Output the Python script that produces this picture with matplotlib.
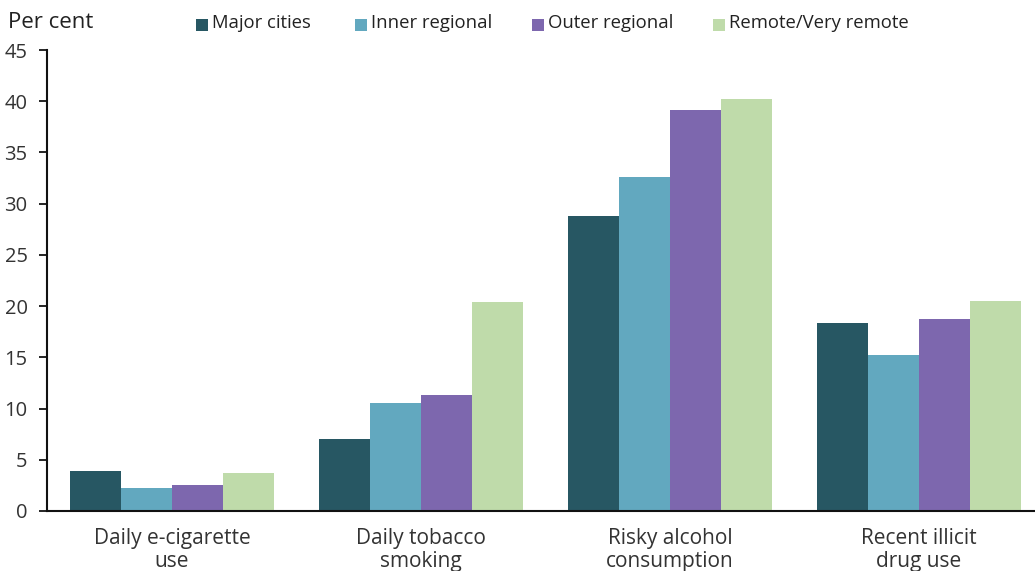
import matplotlib
matplotlib.use("Agg")
import matplotlib.pyplot as plt
from matplotlib.patches import Rectangle
import numpy as np

plt.rcParams['font.family'] = ['Open Sans', 'DejaVu Sans']

categories = ["Daily e-cigarette\nuse", "Daily tobacco\nsmoking",
              "Risky alcohol\nconsumption", "Recent illicit\ndrug use"]
series_names = ["Major cities", "Inner regional", "Outer regional", "Remote/Very remote"]
major_cities = [3.9, 7.0, 28.8, 18.4]
inner_regional = [2.2, 10.5, 32.6, 15.2]
outer_regional = [2.5, 11.3, 39.1, 18.7]
remote = [3.7, 20.4, 40.2, 20.5]
yticks = [0, 5, 10, 15, 20, 25, 30, 35, 40, 45]

colors = ["#275763", "#62A8BF", "#7D67AE", "#BFDBAA"]
series = [major_cities, inner_regional, outer_regional, remote]

W, H = 1035, 571
fig = plt.figure(figsize=(W / 100, H / 100), dpi=100)
ax = fig.add_axes([47 / W, (H - 511) / H, (W - 47) / W, (511 - 50) / H])

x = np.arange(len(categories))
bw = 0.205
for i, (vals, c) in enumerate(zip(series, colors)):
    ax.bar(x + (i - 1.5) * bw, vals, width=bw, color=c, linewidth=0)

ax.set_xlim(-0.502, 3.466)
ax.set_ylim(0, 45)
ax.set_yticks(yticks)
ax.set_xticks(x)
ax.set_xticklabels(categories, fontsize=15, color="#333333", linespacing=1.15)
ax.tick_params(axis="x", length=0, pad=12)
ax.tick_params(axis="y", length=6, width=1.2, pad=8, labelsize=14.5, labelcolor="#333333")
for s in ["top", "right"]:
    ax.spines[s].set_visible(False)
for s in ["left", "bottom"]:
    ax.spines[s].set_linewidth(1.5)
    ax.spines[s].set_color("#111111")

fig.text(8 / W, 1 - 22 / H, "Per cent", fontsize=16, color="#222222", va="center", ha="left")

# legend row: swatch + label for each series
swatch_x = [196, 355, 532, 713]
for sx, name, c in zip(swatch_x, series_names, colors):
    fig.patches.append(Rectangle((sx / W, 1 - 31 / H), 12 / W, 12 / H,
                                 transform=fig.transFigure, facecolor=c,
                                 edgecolor="none"))
    fig.text((sx + 16) / W, 1 - 23 / H, name, fontsize=13.3, color="#222222",
             va="center", ha="left")

fig.savefig("out.png", dpi=100)
